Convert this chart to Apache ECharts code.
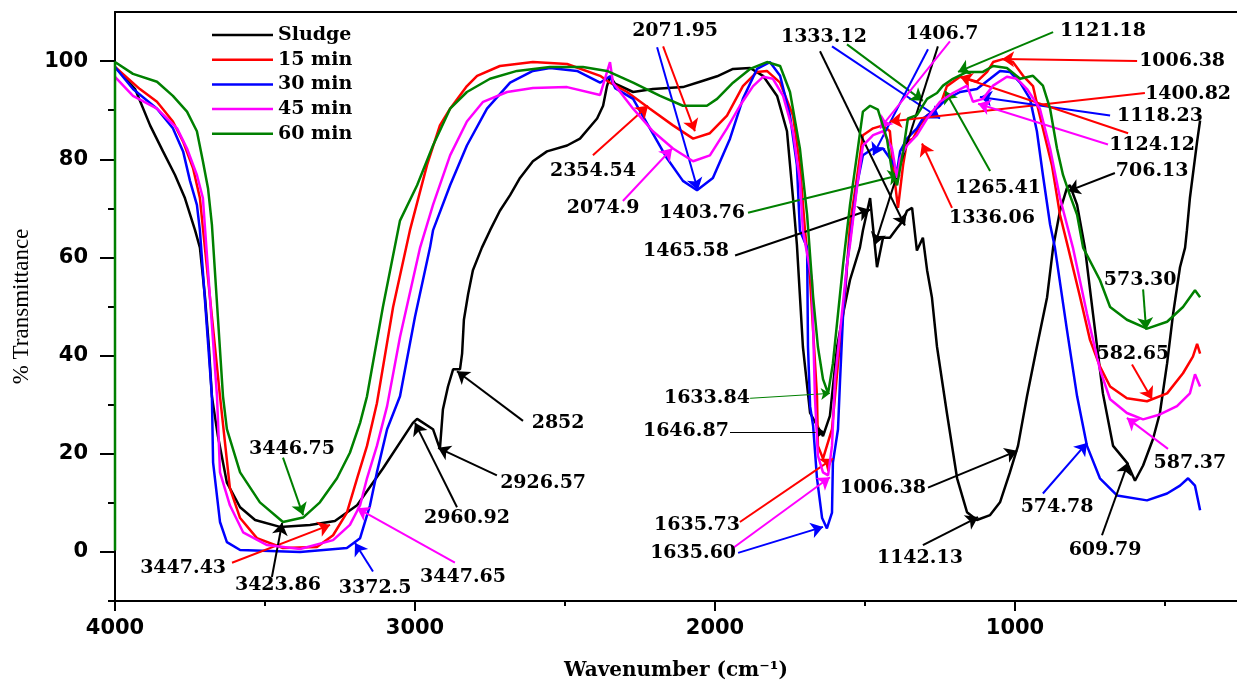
<!DOCTYPE html>
<html>
<head>
<meta charset="UTF-8">
<title>FTIR spectra</title>
<script src="https://cdn.jsdelivr.net/npm/echarts@6.0.0/dist/echarts.min.js"></script>
<style>
html, body { margin: 0; padding: 0; background: #fff; }
#chart { width: 1237px; height: 686px; }
</style>
</head>
<body>
<div id="chart"></div>
<script>
// spectra as [wavenumber cm-1, % transmittance]
var sludge = [
  [4000,98.8],[3933,94.3],[3883,86.9],[3840,81.6],[3800,76.8],[3767,72.1],[3733,65.5],[3717,62],[3700,51.9],
  [3687,41.8],[3677,31.7],[3657,23.6],[3627,14.1],[3583,9.1],[3533,6.5],[3450,5.1],[3350,5.5],[3267,6.3],
  [3193,9.5],[3107,17],[3007,26.3],[2993,27.1],[2940,25],[2917,21],[2907,29],[2890,33.7],[2873,37.2],
  [2850,37.2],[2843,40.4],[2837,47.3],[2823,52.5],[2807,57.4],[2777,62],[2750,65.5],[2717,69.5],[2683,72.7],
  [2650,76.2],[2607,79.6],[2560,81.6],[2493,82.8],[2450,84.2],[2393,88.3],[2373,90.9],[2360,94.9],[2350,96.9],
  [2333,95.4],[2273,93.7],[2207,94.3],[2107,94.7],[2050,95.8],[1993,96.9],[1940,98.4],[1883,98.6],[1840,97],
  [1793,92.9],[1760,85.7],[1740,72.1],[1727,62.6],[1707,41.8],[1683,28.3],[1640,23.6],[1617,27.7],[1593,41.8],
  [1573,48.5],[1550,55.4],[1517,62],[1507,65.5],[1483,72.1],[1460,58],[1440,64],[1417,64],[1393,66],
  [1373,67.5],[1360,69.5],[1343,70.1],[1327,61.4],[1307,64],[1293,57.4],[1277,51.9],[1260,41.8],[1227,28.3],
  [1193,15],[1160,8.1],[1127,6.5],[1083,7.5],[1050,10.1],[1017,16.2],[990,21.6],[960,31.7],[927,41.8],
  [893,51.9],[873,62],[850,69.5],[827,74.1],[817,74.7],[793,70.7],[767,62],[740,48.5],[707,32.3],[673,21.6],
  [627,18.2],[600,14.5],[573,17.6],[540,23],[517,28.3],[493,38.4],[473,48.5],[450,58],[433,62],[427,65.5],
  [417,72.1],[393,83.6],[383,87.9]
];
var min15 = [
  [4000,98.8],[3917,94.3],[3860,91.7],[3807,87.7],[3773,83.6],[3740,78.2],[3717,72.1],[3707,66],[3650,31.7],
  [3617,13],[3583,6.9],[3527,2.8],[3440,0.8],[3327,1],[3273,3.4],[3227,8],[3193,15],[3160,21.6],[3127,30.3],
  [3073,49.9],[3017,65.5],[2960,78.8],[2917,86.9],[2883,90.3],[2827,94.9],[2793,97],[2717,99],[2607,99.8],
  [2493,99.4],[2383,97],[2350,95.6],[2293,93.7],[2217,90.3],[2140,86.9],[2073,84.2],[2017,85.3],[1960,88.9],
  [1907,94.9],[1860,97.8],[1827,98],[1783,95.6],[1740,88.9],[1717,78.8],[1700,65.5],[1683,55.4],[1660,31.7],
  [1657,21.6],[1640,19],[1610,25],[1590,38.4],[1567,51.9],[1550,66.7],[1527,76.2],[1507,84.9],[1473,86.3],
  [1440,86.9],[1417,85.7],[1407,78.8],[1390,70.1],[1373,78.8],[1360,83.6],[1340,84.2],[1317,86.9],[1293,88.9],
  [1250,90.9],[1227,94.9],[1183,96.8],[1127,95.8],[1093,97.8],[1073,99.8],[1040,100.4],[1007,99.8],[973,97],
  [940,94.9],[923,90.3],[877,78.8],[850,68.7],[823,62],[783,51.9],[750,43.2],[717,37.8],[683,33.7],[627,31.3],
  [560,30.7],[493,32.3],[440,36.4],[407,39.8],[393,42.4],[383,40.4]
];
var min30 = [
  [4000,98.8],[3940,94.3],[3860,90.3],[3807,86.3],[3773,81.6],[3750,75.6],[3727,70.7],[3717,65.5],[3677,31.7],
  [3673,18.2],[3650,6.1],[3627,2],[3583,0.4],[3383,0],[3227,0.8],[3183,2.8],[3150,9.5],[3127,16.2],[3093,25],
  [3050,31.7],[3000,47.9],[2950,62],[2940,65.5],[2883,74.7],[2827,82.8],[2760,90.3],[2683,95.6],[2607,98],
  [2550,98.6],[2460,98],[2383,95.6],[2350,96.9],[2333,94.5],[2273,92.3],[2217,86.3],[2160,80.2],[2107,75.6],
  [2060,73.7],[2007,76.2],[1950,84.2],[1907,92.3],[1860,98.4],[1817,99.8],[1783,97],[1750,88.9],[1727,78.8],
  [1717,65.5],[1693,62],[1690,41.8],[1683,29.7],[1673,25.7],[1660,15],[1643,6.9],[1627,4.8],[1610,8],
  [1607,18.2],[1590,25],[1583,35.2],[1573,48.5],[1560,58.6],[1527,74.7],[1507,80.8],[1473,82.2],[1440,82.2],
  [1410,79.6],[1393,77.6],[1383,81.6],[1360,84.2],[1327,86.3],[1307,88.3],[1273,89.7],[1227,92.3],[1183,93.7],
  [1127,94.3],[1083,96.4],[1050,98],[1017,97.8],[983,95.6],[950,92.3],[927,85.7],[907,76.8],[883,66.7],
  [867,62],[827,45.3],[793,31.7],[760,21.6],[717,15],[660,11.5],[560,10.5],[493,11.9],[450,13.5],[423,15],
  [400,13.5],[383,8.5]
];
var min45 = [
  [4000,96.8],[3940,92.9],[3860,90.3],[3793,86.3],[3760,82.2],[3727,76.8],[3707,72.1],[3700,66],[3660,31.7],
  [3650,16.2],[3617,9.5],[3573,4],[3493,1.4],[3383,0.6],[3273,2.4],[3217,5.5],[3183,9.5],[3160,15],[3127,21.6],
  [3093,29.7],[3050,43.8],[2983,62],[2940,70.7],[2883,80.8],[2827,87.7],[2773,91.7],[2693,93.7],[2607,94.5],
  [2493,94.7],[2383,93.1],[2350,99.8],[2340,95.6],[2273,90.3],[2207,85.7],[2140,82.2],[2073,79.6],[2017,80.8],
  [1960,86.3],[1917,90.9],[1873,94.9],[1840,96.8],[1807,96.4],[1773,92.9],[1740,85.7],[1717,75.6],[1707,65.5],
  [1677,55.4],[1667,31.7],[1657,19.6],[1640,16.2],[1623,15.6],[1610,21.6],[1600,35.2],[1577,48.5],[1560,58.6],
  [1550,62.6],[1527,74.1],[1507,82.8],[1473,84.9],[1440,85.7],[1410,82.2],[1393,76.2],[1383,80.2],[1360,82.8],
  [1327,84.9],[1293,88.3],[1250,91.7],[1207,93.5],[1160,95],[1140,91.7],[1107,92.3],[1073,95],[1027,96.8],
  [993,96.4],[960,94.3],[917,90.3],[883,82.2],[850,72.1],[807,62],[760,48.5],[717,37.2],[683,31.1],[627,28.3],
  [573,27],[517,28],[460,29.7],[417,32.3],[400,36.2],[383,33.7]
];
var min60 = [
  [4000,0.3],[4000,99.8],[3940,97.4],[3860,95.8],[3807,92.9],[3760,89.7],[3727,85.7],[3707,79.6],[3690,74.1],
  [3677,66.7],[3640,31.7],[3627,25],[3583,16.2],[3517,10.1],[3440,6.1],[3373,7],[3317,10.1],[3260,15],
  [3217,20.2],[3183,26.3],[3160,31.7],[3107,49.9],[3050,67.5],[2993,74.7],[2940,82.8],[2883,90.3],[2827,93.7],
  [2750,96.4],[2660,98],[2550,98.8],[2440,98.8],[2360,98],[2273,95.6],[2183,92.9],[2107,90.9],[2027,90.9],
  [1993,92.3],[1940,95.6],[1883,98.4],[1827,99.8],[1783,99],[1750,93.7],[1717,82.2],[1693,68.7],[1673,52],
  [1657,41.8],[1640,35.2],[1623,32.3],[1607,38.4],[1590,48.5],[1573,58.6],[1550,70.7],[1527,80.8],[1507,89.7],
  [1483,90.9],[1457,90.1],[1427,84.2],[1410,77.6],[1393,74.7],[1373,81.6],[1357,88.3],[1327,89],[1293,92.3],
  [1260,93.5],[1240,95],[1207,96.4],[1160,97.8],[1107,97.8],[1073,99],[1027,98.6],[983,96.4],[940,97],
  [907,95],[883,90.3],[860,82.2],[840,76.8],[817,72.7],[793,68.7],[773,62],[717,55.4],[683,49.9],[627,47.3],
  [560,45.5],[493,46.9],[440,49.9],[400,53.3],[383,51.9]
];

var seriesNames = ['Sludge', '15 min', '30 min', '45 min', '60 min'];
var xMajorTicks = [4000, 3000, 2000, 1000];
var xMinorTicks = [3500, 2500, 1500, 500];
var yMajorTicks = [0, 20, 40, 60, 80, 100];
var yMinorTicks = [-10, 10, 30, 50, 70, 90];

// peak labels: [text, wavenumber, %T] of the label centre
var peakLabels = [
  ['3446.75', 3410, 21.0], ['3447.43', 3773, -3.2], ['3423.86', 3457, -6.7], ['3372.5', 3133, -7.3],
  ['3447.65', 2840, -5.1], ['2852', 2523, 26.3], ['2926.57', 2573, 14.1], ['2960.92', 2827, 6.9],
  ['2071.95', 2133, 106.1], ['2354.54', 2407, 77.6], ['2074.9', 2373, 70.1], ['1403.76', 2043, 69.1],
  ['1333.12', 1637, 104.8], ['1406.7', 1243, 105.5], ['1121.18', 707, 106.1], ['1006.38', 443, 100],
  ['1400.82', 423, 93.3], ['1118.23', 517, 88.9], ['1124.12', 543, 82.8], ['1265.41', 1057, 74.1],
  ['1336.06', 1077, 68.1], ['706.13', 543, 77.6], ['1465.58', 2097, 61.2], ['1633.84', 2027, 31.3],
  ['1646.87', 2097, 24.6], ['1635.73', 2060, 5.5], ['1635.60', 2073, -0.2], ['1006.38', 1440, 13.1],
  ['1142.13', 1317, -1.2], ['573.30', 583, 55.4], ['582.65', 607, 40.4], ['587.37', 417, 18.2],
  ['574.78', 860, 9.1], ['609.79', 700, 0.4]
];

// arrows: [label, series, from wn, from %T, to wn, to %T]
var peakArrows = [
  ['3446.75', '60 min', 3440, 19.2, 3373, 7.5],
  ['3447.43', '15 min', 3610, -2.2, 3283, 5.5],
  ['3423.86', 'Sludge', 3477, -5.1, 3443, 5.9],
  ['3372.5', '30 min', 3140, -4, 3200, 1.8],
  ['3447.65', '45 min', 2867, -2.2, 3193, 8.9],
  ['2852', 'Sludge', 2640, 26.7, 2860, 36.8],
  ['2926.57', 'Sludge', 2727, 15.6, 2923, 21.2],
  ['2960.92', 'Sludge', 2860, 9.1, 3000, 26.3],
  ['2071.95', '15 min', 2173, 103, 2067, 85.7],
  ['2071.95', '30 min', 2193, 102.8, 2057, 73.7],
  ['2354.54', '15 min', 2407, 80.8, 2223, 90.9],
  ['2074.9', '45 min', 2307, 71.5, 2143, 82.2],
  ['1403.76', '60 min', 1890, 69.1, 1383, 76.8],
  ['1333.12', 'Sludge', 1650, 102, 1367, 66.5],
  ['1333.12', '30 min', 1610, 103, 1250, 88.3],
  ['1333.12', '60 min', 1560, 103.4, 1307, 91.9],
  ['1406.7', '30 min', 1290, 102.4, 1473, 80.8],
  ['1406.7', 'Sludge', 1257, 103, 1467, 62.6],
  ['1406.7', '45 min', 1217, 104, 1450, 86.3],
  ['1121.18', '60 min', 873, 105.9, 1190, 97.8],
  ['1006.38', '15 min', 593, 100, 1043, 100.4],
  ['1400.82', '15 min', 567, 93.5, 1417, 87.7],
  ['1118.23', '30 min', 683, 88.9, 1117, 92.7],
  ['1124.12', '45 min', 690, 83, 1123, 91.3],
  ['1124.12', '15 min', 623, 85.3, 1183, 96.8],
  ['1265.41', '60 min', 1083, 77.6, 1233, 93.9],
  ['1336.06', '15 min', 1210, 70.1, 1310, 83.2],
  ['706.13', 'Sludge', 667, 77.2, 823, 73.5],
  ['1465.58', 'Sludge', 1933, 60.4, 1483, 69.7],
  ['1633.84', '60 min', 1883, 31.3, 1617, 32.3],
  ['1646.87', 'Sludge', 1950, 24.4, 1633, 24.4],
  ['1635.73', '15 min', 1917, 6.1, 1607, 19],
  ['1635.60', '45 min', 1940, 0.8, 1617, 15.2],
  ['1635.60', '30 min', 1923, -0.2, 1640, 5.1],
  ['1006.38', 'Sludge', 1290, 13.1, 993, 20.6],
  ['1142.13', 'Sludge', 1307, 1.4, 1123, 7.1],
  ['573.30', '60 min', 573, 53.5, 563, 45.3],
  ['582.65', '15 min', 610, 38.2, 543, 31.1],
  ['587.37', '45 min', 490, 21, 627, 27.3],
  ['574.78', '30 min', 907, 11.9, 760, 22.2],
  ['609.79', 'Sludge', 710, 3.4, 623, 18.2]
];

var colors = { 'Sludge': '#000000', '15 min': '#ff0000', '30 min': '#0000ff', '45 min': '#ff00ff', '60 min': '#008000' };
var thinLabels = { '1633.84': true, '1646.87': true };

var chart = echarts.init(document.getElementById('chart'), null, { renderer: 'canvas' });

var axisColor = '#000';
var tickFont = { color: axisColor, fontFamily: 'DejaVu Sans', fontWeight: 'bold', fontSize: 21 };
function plain(v) { return String(v); }

function xAxisBase(extra) {
  return Object.assign({
    type: 'value', min: 260, max: 4000, inverse: true, gridIndex: 0,
    splitLine: { show: false }
  }, extra);
}

var spectra = [sludge, min15, min30, min45, min60];
var lineSeries = seriesNames.map(function (name, i) {
  return {
    name: name,
    type: 'line',
    data: spectra[i],
    symbol: 'none',
    smooth: false,
    lineStyle: { color: colors[name], width: 2.5 },
    itemStyle: { color: colors[name] },
    z: 2 + i,
    animation: false,
    silent: true
  };
});

var arrowData = peakArrows.map(function (a) {
  var thin = thinLabels[a[0]];
  return [
    { coord: [a[2], a[3]], symbol: 'none', lineStyle: { color: colors[a[1]], width: thin ? 1 : 2, type: 'solid' } },
    { coord: [a[4], a[5]], symbol: 'arrow', symbolSize: thin ? 9 : 12 }
  ];
});

// peak numbers, drawn as labels of invisible points
var labelSeries = {
  name: 'peaks',
  type: 'scatter',
  symbolSize: 1,
  itemStyle: { color: 'rgba(255,255,255,0)' },
  data: peakLabels.map(function (p) {
    return { value: [p[1], p[2]], label: { formatter: p[0] } };
  }),
  label: {
    show: true, position: 'inside', color: '#000', opacity: 1,
    textBorderWidth: 0, textShadowBlur: 0,
    fontFamily: 'DejaVu Serif', fontWeight: 'bold', fontSize: 19
  },
  markLine: {
    silent: true,
    animation: false,
    symbol: ['none', 'arrow'],
    symbolSize: 12,
    label: { show: false },
    lineStyle: { type: 'solid' },
    emphasis: { disabled: true },
    data: arrowData
  },
  z: 10,
  silent: true,
  animation: false
};

chart.setOption({
  backgroundColor: '#fff',
  animation: false,
  grid: { left: 115, right: 0, top: 12, bottom: 79, containLabel: false },
  legend: {
    data: seriesNames,
    orient: 'vertical',
    left: 207,
    top: 20,
    icon: 'rect',
    itemWidth: 61,
    itemHeight: 2.5,
    itemGap: 4.7,
    selectedMode: false,
    textStyle: { fontFamily: 'DejaVu Serif', fontWeight: 'bold', fontSize: 19, color: '#000', lineHeight: 20 }
  },
  xAxis: [
    xAxisBase({
      position: 'bottom',
      axisLine: { onZero: false, lineStyle: { color: axisColor, width: 2 } },
      axisTick: { customValues: xMajorTicks, length: 10, lineStyle: { color: axisColor, width: 2 } },
      axisLabel: Object.assign({ customValues: xMajorTicks, margin: 17, formatter: plain }, tickFont),
      name: 'Wavenumber (cm\u207B\u00B9)',
      nameLocation: 'middle',
      nameGap: 60,
      nameTextStyle: { fontFamily: 'DejaVu Serif', fontWeight: 'bold', fontSize: 20, color: '#000' }
    }),
    xAxisBase({
      position: 'bottom',
      axisLine: { show: false, onZero: false },
      axisTick: { customValues: xMinorTicks, length: 5, lineStyle: { color: axisColor, width: 2 } },
      axisLabel: { show: false }
    }),
    xAxisBase({
      position: 'top',
      axisLine: { onZero: false, lineStyle: { color: axisColor, width: 2 } },
      axisTick: { show: false },
      axisLabel: { show: false }
    })
  ],
  yAxis: [
    {
      type: 'value', min: -10, max: 110, interval: 10, position: 'left',
      axisLine: { onZero: false, lineStyle: { color: axisColor, width: 2 } },
      axisTick: { customValues: yMajorTicks, length: 15, lineStyle: { color: axisColor, width: 2 } },
      axisLabel: Object.assign({ customValues: yMajorTicks, margin: 27, formatter: plain }, tickFont),
      splitLine: { show: false },
      name: '% Transmittance',
      nameLocation: 'middle',
      nameGap: 82,
      nameTextStyle: { fontFamily: 'Liberation Serif', fontSize: 23, color: '#000' }
    },
    {
      type: 'value', min: -10, max: 110, interval: 10, position: 'left',
      axisLine: { show: false, onZero: false },
      axisTick: { customValues: yMinorTicks, length: 7, lineStyle: { color: axisColor, width: 2 } },
      axisLabel: { show: false },
      splitLine: { show: false }
    }
  ],
  series: lineSeries.concat([labelSeries])
});
</script>
</body>
</html>
